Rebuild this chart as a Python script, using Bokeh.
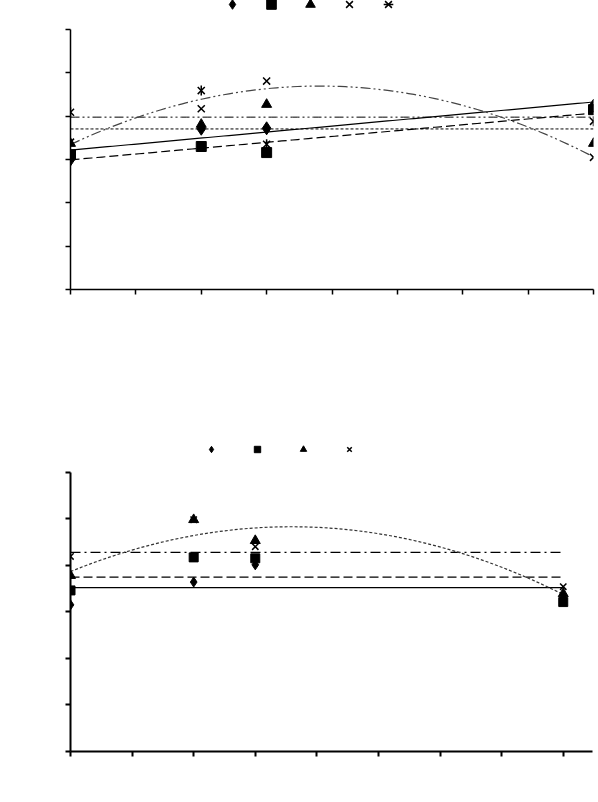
import numpy as np
from bokeh.plotting import figure
from bokeh.layouts import column
from bokeh.models import Range1d, FixedTicker, Legend, LegendItem
from bokeh.core.properties import value
from bokeh.embed import file_html
from bokeh.resources import INLINE

# ---------------- data ----------------
x_ticks = [0, 1, 2, 3, 4, 5, 6, 7, 8]
y_ticks = [0, 1, 2, 3, 4, 5, 6]

# top chart
x_top = [0, 2, 3, 8]
top_diamond = [3.00, 3.71, 3.72, 4.24]
top_square = [3.11, 3.30, 3.16, 4.15]
top_triangle = [3.37, 3.81, 4.27, 3.37]
top_cross = [3.40, 4.17, 4.81, 3.05]
top_star = [4.09, 4.59, 3.35, 3.88]

# bottom chart
x_bot = [0, 2, 3, 8]
bot_diamond = [3.15, 3.64, 4.01, 3.29]
bot_square = [3.46, 4.17, 4.15, 3.21]
bot_triangle = [3.78, 4.98, 4.53, 3.39]
bot_cross = [4.19, 4.98, 4.40, 3.54]


def trend(xs, ys, deg, lo, hi, n=100):
    c = np.polyfit(xs, ys, deg)
    xx = np.linspace(lo, hi, n)
    return xx, np.polyval(c, xx)


def style_axes(p, axis_w):
    for ax, ticks in ((p.xaxis[0], x_ticks), (p.yaxis[0], y_ticks)):
        ax.ticker = FixedTicker(ticks=ticks)
        ax.major_label_overrides = {t: "" for t in ticks}
        ax.major_tick_in = 0
        ax.major_tick_out = 5
        ax.minor_tick_line_color = None
        ax.axis_line_width = axis_w
        ax.major_tick_line_width = axis_w
        ax.axis_line_color = "black"
        ax.major_tick_line_color = "black"
    p.yaxis[0].bounds = (y_ticks[0], y_ticks[-1])
    p.grid.visible = False
    p.outline_line_color = None
    p.background_fill_color = "white"
    p.border_fill_color = "white"


def make_legend(items, loc, glyph, spacing):
    return Legend(items=items, location=loc, orientation="horizontal",
                  glyph_width=glyph, glyph_height=glyph, label_width=0, label_height=glyph,
                  label_standoff=0, spacing=spacing, padding=0, margin=0,
                  border_line_color=None, background_fill_alpha=0)


# ---------------- top figure ----------------
# frame reaches the top of the canvas so the legend above the axis is not clipped
top_frame_h = 289
top_axis_px = 260
p1 = figure(width=596, height=420, title=None,
            x_range=Range1d(0, 8), y_range=Range1d(0, 6 * top_frame_h / top_axis_px),
            output_backend="svg", toolbar_location=None,
            min_border_left=70, min_border_right=3, min_border_top=0, min_border_bottom=131)
style_axes(p1, 1.5)

xx, yy = trend(x_top, top_diamond, 1, 0, 8)
p1.line(xx, yy, line_color="black", line_width=1.2)
xx, yy = trend(x_top, top_square, 1, 0, 8)
p1.line(xx, yy, line_color="black", line_width=1.2, line_dash="9 4")
xx, yy = trend(x_top, top_triangle, 0, 0, 8)
p1.line(xx, yy, line_color="black", line_width=1.0, line_dash="3 2")
xx, yy = trend(x_top, top_star, 0, 0, 8)
p1.line(xx, yy, line_color="black", line_width=1.0, line_dash="9 3 2 3 2 3")
xx, yy = trend(x_top, top_cross, 2, 0, 8)
p1.line(xx, yy, line_color="#444444", line_width=1.2, line_dash="10 3 2 3 2 3")

r_d = p1.scatter(x_top, top_diamond, marker="diamond", size=13, color="black")
r_s = p1.scatter(x_top, top_square, marker="square", size=10, color="black")
r_t = p1.scatter(x_top, top_triangle, marker="triangle", size=10, color="black")
r_x = p1.scatter(x_top, top_cross, marker="x", size=10, line_color="black", line_width=1.5)
r_a1 = p1.scatter(x_top, top_star, marker="x", size=10, line_color="black", line_width=1.5)
r_a2 = p1.scatter(x_top, top_star, marker="dash", angle=np.pi / 2, size=10,
                  line_color="black", line_width=1.5)

leg1 = make_legend([
    LegendItem(label=value(""), renderers=[r_d]),
    LegendItem(label=value(""), renderers=[r_s]),
    LegendItem(label=value(""), renderers=[r_t]),
    LegendItem(label=value(""), renderers=[r_x]),
    LegendItem(label=value(""), renderers=[r_a1, r_a2]),
], (150, top_frame_h - 16), 24, 15)
p1.add_layout(leg1)

# ---------------- bottom figure ----------------
bot_frame_h = 331
bot_axis_px = 279.3
p2 = figure(width=595, height=374, title=None,
            x_range=Range1d(0, 8.475), y_range=Range1d(0, 6 * bot_frame_h / bot_axis_px),
            output_backend="svg", toolbar_location=None,
            min_border_left=68, min_border_right=2, min_border_top=0, min_border_bottom=43)
style_axes(p2, 2)

xx, yy = trend(x_bot, bot_diamond, 0, 0, 8)
p2.line(xx, yy, line_color="black", line_width=1.3)
xx, yy = trend(x_bot, bot_square, 0, 0, 8)
p2.line(xx, yy, line_color="black", line_width=1.2, line_dash="9 4")
xx, yy = trend(x_bot, bot_cross, 0, 0, 8)
p2.line(xx, yy, line_color="black", line_width=1.2, line_dash="10 4 2 4")
xx, yy = trend(x_bot, bot_triangle, 2, 0, 8)
p2.line(xx, yy, line_color="#333333", line_width=1.2, line_dash="3 2")

q_d = p2.scatter(x_bot, bot_diamond, marker="diamond", size=10, color="black")
q_s = p2.scatter(x_bot, bot_square, marker="square", size=9, color="black")
q_t = p2.scatter(x_bot, bot_triangle, marker="triangle", size=10, color="black")
q_x = p2.scatter(x_bot, bot_cross, marker="x", size=9, line_color="black", line_width=1.5)

leg2 = make_legend([
    LegendItem(label=value(""), renderers=[q_d]),
    LegendItem(label=value(""), renderers=[q_s]),
    LegendItem(label=value(""), renderers=[q_t]),
    LegendItem(label=value(""), renderers=[q_x]),
], (133, bot_frame_h - 37), 16, 30)
p2.add_layout(leg2)

layout = column(p1, p2)
open("out.html", "w").write(file_html(layout, INLINE))
